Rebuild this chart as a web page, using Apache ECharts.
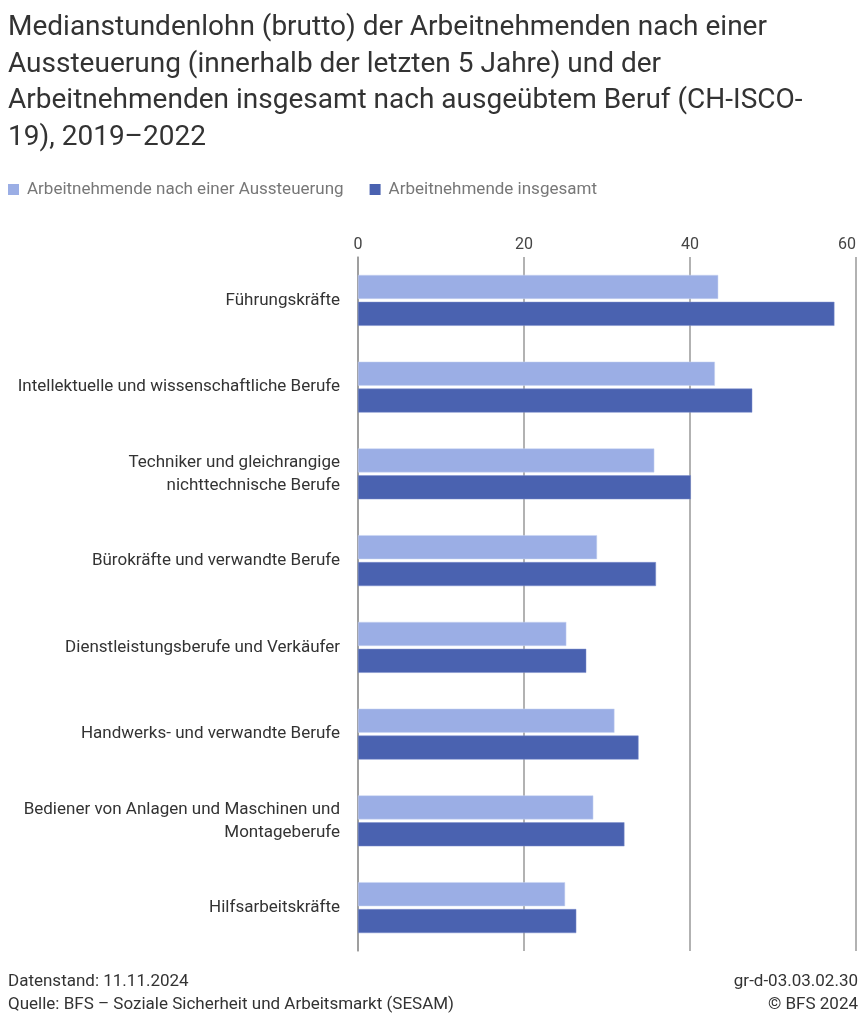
<!DOCTYPE html>
<html>
<head>
<meta charset="utf-8">
<script src="https://cdn.jsdelivr.net/npm/echarts@6/dist/echarts.min.js"></script>
<style>
html,body{margin:0;padding:0;background:#fff;}
#chart{width:866px;height:1024px;}
</style>
</head>
<body>
<div id="chart"></div>
<script>
const categories = [
  "Führungskräfte",
  "Intellektuelle und wissenschaftliche Berufe",
  "Techniker und gleichrangige\nnichttechnische Berufe",
  "Bürokräfte und verwandte Berufe",
  "Dienstleistungsberufe und Verkäufer",
  "Handwerks- und verwandte Berufe",
  "Bediener von Anlagen und Maschinen und\nMontageberufe",
  "Hilfsarbeitskräfte"
];
const seriesNames = ["Arbeitnehmende nach einer Aussteuerung", "Arbeitnehmende insgesamt"];
const nachAussteuerung = [43.4, 43.0, 35.7, 28.8, 25.1, 30.9, 28.35, 24.95];
const insgesamt = [57.4, 47.5, 40.1, 35.9, 27.5, 33.8, 32.1, 26.3];
const axisTicks = [0, 20, 40, 60];

const titleText = "Medianstundenlohn (brutto) der Arbeitnehmenden nach einer\nAussteuerung (innerhalb der letzten 5 Jahre) und der\nArbeitnehmenden insgesamt nach ausgeübtem Beruf (CH-ISCO-\n19), 2019–2022";
const footLeft = ["Datenstand: 11.11.2024", "Quelle: BFS – Soziale Sicherheit und Arbeitsmarkt (SESAM)"];
const footRight = ["gr-d-03.03.02.30", "© BFS 2024"];

const chart = echarts.init(document.getElementById('chart'), null, {renderer: 'canvas'});
const font = 'Roboto';
const ftStyle = {fontFamily: font, fontSize: 17, fill: '#333'};
chart.setOption({
  backgroundColor: '#fff',
  animation: false,
  textStyle: {fontFamily: font},
  title: [{
    text: titleText,
    left: 8, top: 10, padding: 0,
    textStyle: {fontFamily: font, fontSize: 28, fontWeight: 'normal', color: '#333', lineHeight: 36.5}
  }],
  graphic: [
    {type: 'text', left: 8, top: 973, style: Object.assign({text: footLeft[0]}, ftStyle)},
    {type: 'text', left: 8, top: 996, style: Object.assign({text: footLeft[1]}, ftStyle)},
    {type: 'text', right: 8, top: 973, style: Object.assign({text: footRight[0]}, ftStyle)},
    {type: 'text', right: 8, top: 996, style: Object.assign({text: footRight[1]}, ftStyle)}
  ],
  legend: {
    left: 8, top: 181, padding: 0,
    itemWidth: 11, itemHeight: 11, itemGap: 26,
    icon: 'rect',
    itemStyle: {borderWidth: 0},
    textStyle: {fontFamily: font, fontSize: 17, color: '#777', padding: [0, 0, 0, 3]},
    data: seriesNames
  },
  grid: {left: 358, right: 10, top: 257, height: 694, containLabel: false},
  xAxis: {
    type: 'value', position: 'top',
    min: axisTicks[0], max: axisTicks[axisTicks.length - 1], interval: 20,
    axisLine: {show: false},
    axisTick: {show: false},
    axisLabel: {fontFamily: font, fontSize: 16, color: '#444', margin: 4, alignMaxLabel: 'right'},
    splitLine: {show: true, lineStyle: {color: '#999', width: 1.5}}
  },
  yAxis: {
    type: 'category', inverse: true,
    data: categories,
    axisLine: {show: true, lineStyle: {color: '#999', width: 1.5}},
    axisTick: {show: false},
    axisLabel: {fontFamily: font, fontSize: 17, color: '#333', margin: 18, lineHeight: 23, align: 'right'}
  },
  series: [{
    name: seriesNames[0], type: 'bar', data: nachAussteuerung,
    barWidth: 24, barGap: '12%',
    itemStyle: {color: '#9baee5', borderColor: '#c9d4f2', borderWidth: 0.5}
  }, {
    name: seriesNames[1], type: 'bar', data: insgesamt,
    barWidth: 24, barGap: '12%',
    itemStyle: {color: '#4a62b0', borderColor: '#7d8fcc', borderWidth: 0.5}
  }]
});
</script>
</body>
</html>
